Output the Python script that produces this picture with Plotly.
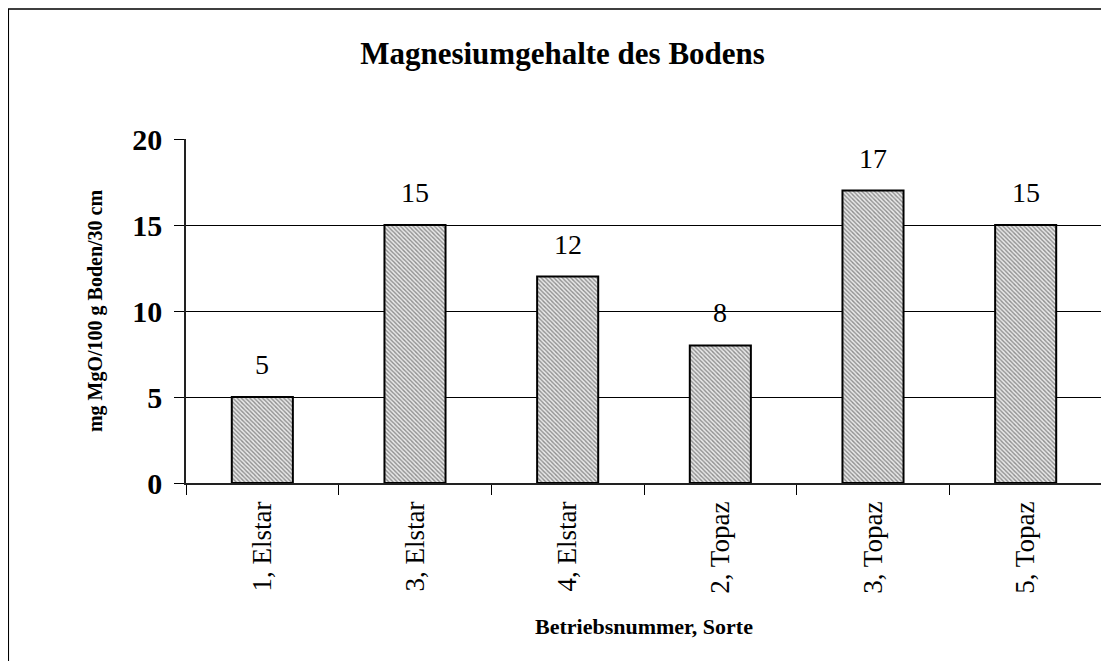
import plotly.graph_objects as go

# Betriebsnummer, Sorte
categories = ["1, Elstar", "3, Elstar", "4, Elstar", "2, Topaz", "3, Topaz", "5, Topaz"]
# mg MgO/100 g Boden/30 cm
values = [5, 15, 12, 8, 17, 15]
y_ticks = [0, 5, 10, 15, 20]

serif = "Liberation Serif"

fig = go.Figure()

fig.add_trace(go.Bar(
    x=categories,
    y=values,
    width=0.4,
    marker=dict(
        color="white",
        line=dict(color="black", width=2),
        pattern=dict(shape="\\", size=3, solidity=0.45, fgcolor="#333333", bgcolor="#e8e8e8"),
    ),
    showlegend=False,
))

# value labels above the bars
for cat, val in zip(categories, values):
    fig.add_annotation(
        x=cat, y=val, text=str(val), showarrow=False,
        yanchor="bottom", yshift=15,
        font=dict(family=serif, size=28, color="black"),
    )

# outer chart frame
fig.add_shape(
    type="rect", xref="paper", yref="paper",
    x0=-0.194, x1=1.05, y0=-0.8, y1=1.378,
    line=dict(color="black", width=1.5), fillcolor="rgba(0,0,0,0)",
)

# the page body adds an 8px offset, so margins are shifted to compensate
fig.update_layout(
    width=1109,
    height=661,
    margin=dict(l=178, r=15, t=131, b=186, autoexpand=False),
    paper_bgcolor="white",
    plot_bgcolor="white",
    title=dict(
        text="<b>Magnesiumgehalte des Bodens</b>",
        x=0.5, xanchor="center", xref="container",
        y=0.931, yanchor="middle", yref="container",
        font=dict(family=serif, size=31, color="black"),
    ),
    font=dict(family=serif, color="black"),
)

fig.update_xaxes(
    type="category",
    automargin=False,
    tickson="boundaries",
    ticks="outside",
    ticklen=10,
    tickcolor="black",
    tickangle=-90,
    ticklabelstandoff=6,
    tickfont=dict(family=serif, size=27, color="black"),
    showline=True,
    linecolor="#222222",
    linewidth=1.5,
    showgrid=False,
    title=dict(text="<b>Betriebsnummer, Sorte</b>", font=dict(family=serif, size=22, color="black"), standoff=26),
)

fig.update_yaxes(
    range=[0, 20],
    automargin=False,
    tickvals=y_ticks,
    ticktext=[f"<b>{t}</b>" for t in y_ticks],
    ticks="outside",
    ticklen=10,
    tickcolor="black",
    ticklabelstandoff=6,
    tickfont=dict(family=serif, size=30, color="black"),
    showline=True,
    linecolor="#222222",
    linewidth=1.5,
    showgrid=True,
    gridcolor="black",
    gridwidth=1,
    zeroline=False,
    title=dict(text="<b>mg MgO/100 g Boden/30 cm</b>", font=dict(family=serif, size=20, color="black"), standoff=24),
)

fig.write_html("out.html")
